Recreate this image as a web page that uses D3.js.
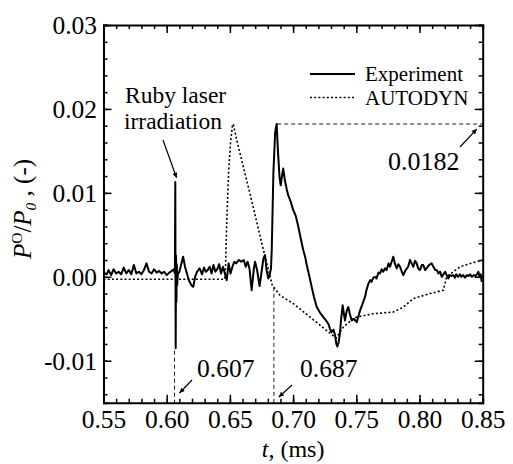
<!DOCTYPE html>
<html>
<head>
<meta charset="utf-8">
<script src="https://cdn.jsdelivr.net/npm/d3@7"></script>
<style>
    body { margin: 0; background: #fff; }
    svg { display: block; }
    .axis path { stroke: #000; stroke-width: 2; }
    .axis line { stroke: #000; stroke-width: 1.5; }
</style>
</head>
<body>
<svg></svg>
<script>
let width = 513
let height = 464
let margin = { left: 103.5, right: 30.3, top: 25, bottom: 61.3 }
let serif = "'Liberation Serif', 'Times New Roman', 'DejaVu Serif', serif"
let svg = d3.select('svg')
    .attr('width', width)
    .attr('height', height)

// time (ms), P/P0 (-)
let experiment = [
    [0.5500, 0.0005], [0.5525, 0.0003], [0.5540, 0.0008], [0.5560, 0.0002], [0.5580, 0.0009],
    [0.5600, 0.0004], [0.5620, 0.0006], [0.5640, 0.0003], [0.5660, 0.0011], [0.5680, 0.0004],
    [0.5700, 0.0008], [0.5720, 0.0003], [0.5740, 0.0014], [0.5760, 0.0004], [0.5780, 0.0006],
    [0.5800, 0.0003], [0.5820, 0.0008], [0.5840, 0.0016], [0.5860, 0.0006], [0.5880, 0.0004],
    [0.5900, 0.0009], [0.5920, 0.0005], [0.5940, 0.0007], [0.5960, 0.0004], [0.5980, 0.0006],
    [0.6000, 0.0002], [0.6020, 0.0005], [0.6040, 0.0007], [0.6055, 0.0009], [0.6065, 0.0004],
    [0.6068, 0.0113], [0.6071, -0.0085], [0.6074, 0.0025], [0.6077, -0.0030], [0.6080, 0.0015],
    [0.6083, -0.0010], [0.6088, 0.0003], [0.6100, 0.0006], [0.6115, 0.0015], [0.6130, 0.0024],
    [0.6145, 0.0012], [0.6160, 0.0004], [0.6175, -0.0004], [0.6195, -0.0010], [0.6210, -0.0012],
    [0.6225, 0.0000], [0.6240, 0.0006], [0.6260, 0.0010], [0.6280, 0.0003], [0.6295, 0.0011],
    [0.6310, 0.0006], [0.6325, 0.0008], [0.6340, 0.0012], [0.6355, 0.0004], [0.6370, 0.0014],
    [0.6385, 0.0006], [0.6400, 0.0009], [0.6415, 0.0015], [0.6430, 0.0004], [0.6445, 0.0012],
    [0.6458, 0.0005], [0.6475, -0.0004], [0.6490, 0.0016], [0.6505, 0.0004], [0.6520, 0.0012],
    [0.6535, 0.0018], [0.6550, 0.0016], [0.6570, 0.0020], [0.6590, 0.0018], [0.6610, 0.0020],
    [0.6625, 0.0012], [0.6640, 0.0018], [0.6655, 0.0010], [0.6672, -0.0016], [0.6690, 0.0010],
    [0.6699, 0.0018], [0.6715, 0.0008], [0.6735, -0.0011], [0.6750, 0.0005], [0.6765, 0.0022],
    [0.6778, 0.0026], [0.6790, 0.0008], [0.6804, -0.0002], [0.6815, 0.0002], [0.6825, 0.0010],
    [0.6831, 0.0032], [0.6844, 0.0124], [0.6858, 0.0172], [0.6870, 0.0182], [0.6880, 0.0150],
    [0.6893, 0.0118], [0.6902, 0.0109], [0.6912, 0.0120], [0.6922, 0.0129], [0.6935, 0.0115],
    [0.6950, 0.0104], [0.6962, 0.0097], [0.6980, 0.0090], [0.7000, 0.0080], [0.7020, 0.0073],
    [0.7041, 0.0060], [0.7060, 0.0046], [0.7080, 0.0032], [0.7095, 0.0024], [0.7108, 0.0014],
    [0.7125, 0.0003], [0.7147, -0.0012], [0.7165, -0.0024], [0.7187, -0.0036], [0.7210, -0.0042],
    [0.7239, -0.0048], [0.7260, -0.0052], [0.7279, -0.0056], [0.7292, -0.0062], [0.7305, -0.0066],
    [0.7320, -0.0063], [0.7331, -0.0069], [0.7342, -0.0080], [0.7350, -0.0083], [0.7360, -0.0078],
    [0.7371, -0.0067], [0.7380, -0.0050], [0.7392, -0.0034], [0.7400, -0.0042], [0.7410, -0.0052],
    [0.7425, -0.0040], [0.7437, -0.0036], [0.7450, -0.0045], [0.7464, -0.0052], [0.7480, -0.0050],
    [0.7503, -0.0054], [0.7515, -0.0048], [0.7530, -0.0040], [0.7550, -0.0032], [0.7569, -0.0024],
    [0.7580, -0.0016], [0.7596, -0.0008], [0.7610, -0.0004], [0.7620, -0.0006], [0.7635, -0.0001],
    [0.7648, 0.0000], [0.7660, -0.0002], [0.7675, 0.0005], [0.7688, 0.0004], [0.7700, 0.0009],
    [0.7713, 0.0006], [0.7727, 0.0010], [0.7740, 0.0008], [0.7755, 0.0016], [0.7767, 0.0012],
    [0.7780, 0.0018], [0.7793, 0.0024], [0.7805, 0.0016], [0.7820, 0.0010], [0.7833, 0.0015],
    [0.7846, 0.0012], [0.7860, 0.0006], [0.7872, 0.0002], [0.7890, 0.0008], [0.7910, 0.0012],
    [0.7925, 0.0020], [0.7938, 0.0016], [0.7951, 0.0012], [0.7965, 0.0019], [0.7978, 0.0016],
    [0.7990, 0.0010], [0.8004, 0.0008], [0.8018, 0.0014], [0.8030, 0.0014], [0.8045, 0.0008],
    [0.8060, 0.0011], [0.8075, 0.0014], [0.8096, 0.0016], [0.8110, 0.0012], [0.8125, 0.0008],
    [0.8136, 0.0008], [0.8150, 0.0004], [0.8163, 0.0006], [0.8176, 0.0000], [0.8190, 0.0003],
    [0.8202, 0.0006], [0.8215, 0.0002], [0.8229, -0.0002], [0.8240, 0.0002], [0.8255, 0.0001],
    [0.8268, 0.0002], [0.8280, -0.0001], [0.8290, 0.0003], [0.8305, 0.0000], [0.8320, 0.0003],
    [0.8330, 0.0000], [0.8345, 0.0002], [0.8360, -0.0001], [0.8375, 0.0002], [0.8390, 0.0001],
    [0.8400, 0.0003], [0.8415, 0.0000], [0.8430, 0.0002], [0.8445, 0.0001], [0.8466, 0.0006],
    [0.8475, 0.0000], [0.8485, 0.0003], [0.8492, -0.0006]
]

let autodyn = [
    [0.5500, -0.0003], [0.6458, -0.0003], [0.6465, 0.0010], [0.6475, 0.0065], [0.6490, 0.0125],
    [0.6505, 0.0160], [0.6520, 0.0180], [0.6527, 0.0182], [0.6554, 0.0163], [0.6659, 0.0099],
    [0.6765, 0.0032], [0.6835, -0.0010], [0.6896, -0.0022], [0.7002, -0.0032], [0.7134, -0.0048],
    [0.7266, -0.0064], [0.7340, -0.0073], [0.7397, -0.0060], [0.7450, -0.0053], [0.7503, -0.0048],
    [0.7635, -0.0044], [0.7793, -0.0042], [0.7872, -0.0036], [0.7951, -0.0026], [0.8083, -0.0020],
    [0.8188, -0.0016], [0.8215, 0.0000], [0.8320, 0.0012], [0.8452, 0.0018], [0.8500, 0.0020]
]

let xTicks = [0.55, 0.60, 0.65, 0.70, 0.75, 0.80, 0.85]
let yTicks = [-0.01, 0.00, 0.01, 0.02, 0.03]
let xMinorTicks = d3.range(55, 86).map(d => d / 100)
let yMinorTicks = d3.range(-7, 16).map(d => d / 500)

let legendItems = ['Experiment', 'AUTODYN']
let peakValue = 0.0182
let peakTime = 0.6874
// dashed drop lines: time, value where the drop starts, label
let dropLines = [
    { t: 0.6062, v: -0.0088, label: '0.607' },
    { t: 0.6848, v: -0.0012, label: '0.687' }
]

let x = d3.scaleLinear()
    .domain([0.55, 0.85])
    .range([margin.left, width - margin.right])
let y = d3.scaleLinear()
    .domain([-0.015, 0.03])
    .range([height - margin.bottom, margin.top])

let fmt = d => d.toFixed(2)

svg.append('defs').append('marker')
    .attr('id', 'arrow')
    .attr('viewBox', '0 0 10 10')
    .attr('refX', 10)
    .attr('refY', 5)
    .attr('markerWidth', 7)
    .attr('markerHeight', 5)
    .attr('markerUnits', 'userSpaceOnUse')
    .attr('orient', 'auto')
    .append('path')
    .attr('d', 'M 0 0 L 10 5 L 0 10 z')
    .attr('fill', '#000')

// axes, ticks pointing inwards on all four sides
let axisB = svg.append('g').attr('class', 'axis')
    .attr('transform', `translate(0,${y.range()[0]})`)
axisB.call(d3.axisBottom(x).tickValues(xMinorTicks).tickSize(-4).tickFormat(''))
axisB.append('g').call(d3.axisBottom(x).tickValues(xTicks).tickSize(-8).tickFormat(fmt))
    .call(g => g.select('.domain').remove())
    .selectAll('text')
    .attr('y', 25)
    .attr('dy', null)

let axisT = svg.append('g').attr('class', 'axis')
    .attr('transform', `translate(0,${y.range()[1]})`)
axisT.call(d3.axisTop(x).tickValues(xMinorTicks).tickSize(-4).tickFormat(''))
axisT.append('g').call(d3.axisTop(x).tickValues(xTicks).tickSize(-8).tickFormat(''))
    .call(g => g.select('.domain').remove())

let axisL = svg.append('g').attr('class', 'axis')
    .attr('transform', `translate(${x.range()[0]},0)`)
axisL.call(d3.axisLeft(y).tickValues(yMinorTicks).tickSize(-4).tickFormat(''))
axisL.append('g').call(d3.axisLeft(y).tickValues(yTicks).tickSize(-8).tickFormat(fmt))
    .call(g => g.select('.domain').remove())
    .selectAll('text')
    .attr('x', -6.5)
    .attr('dy', '0.33em')

let axisR = svg.append('g').attr('class', 'axis')
    .attr('transform', `translate(${x.range()[1]},0)`)
axisR.call(d3.axisRight(y).tickValues(yMinorTicks).tickSize(-4).tickFormat(''))
axisR.append('g').call(d3.axisRight(y).tickValues(yTicks).tickSize(-8).tickFormat(''))
    .call(g => g.select('.domain').remove())

svg.selectAll('.axis, .axis g')
    .attr('font-family', serif)
    .attr('font-size', 25.5)

let line = d3.line()
    .x(d => x(d[0]))
    .y(d => y(d[1]))

// annotation lines
let dash = '4,3'
svg.append('line')
    .attr('x1', x(peakTime)).attr('x2', x.range()[1])
    .attr('y1', y(peakValue)).attr('y2', y(peakValue))
    .attr('stroke', '#000').attr('stroke-width', 0.9)
    .attr('stroke-dasharray', dash)
svg.selectAll('.drop')
    .data(dropLines).enter()
    .append('line')
    .attr('class', 'drop')
    .attr('x1', d => x(d.t)).attr('x2', d => x(d.t))
    .attr('y1', d => y(d.v)).attr('y2', y.range()[0])
    .attr('stroke', '#000').attr('stroke-width', 0.9)
    .attr('stroke-dasharray', dash)

svg.append('path')
    .datum(autodyn)
    .attr('fill', 'none')
    .attr('stroke', '#000')
    .attr('stroke-width', 1.6)
    .attr('stroke-dasharray', '2,2.2')
    .attr('d', line)

svg.append('path')
    .datum(experiment)
    .attr('fill', 'none')
    .attr('stroke', '#000')
    .attr('stroke-width', 2)
    .attr('stroke-linejoin', 'round')
    .attr('d', line)

// texts and arrows
let label = (px, py, size, text) => svg.append('text')
    .attr('x', px).attr('y', py)
    .attr('font-family', serif)
    .attr('font-size', size)
    .text(text)
let arrow = (x1, y1, x2, y2) => svg.append('line')
    .attr('x1', x1).attr('y1', y1).attr('x2', x2).attr('y2', y2)
    .attr('stroke', '#000').attr('stroke-width', 1.2)
    .attr('marker-end', 'url(#arrow)')

label(125, 103, 23.5, 'Ruby laser')
label(124, 129, 23.5, 'irradiation')
arrow(163, 140, x(0.607) + 1, y(0.0118))

label(388, 170, 26, peakValue.toString())
arrow(460, 147, x.range()[1] - 6, y(peakValue) + 5)

label(197, 377, 25.5, dropLines[0].label)
arrow(192, 380, x(dropLines[0].t) + 5, 393)
label(300, 377, 25.5, dropLines[1].label)
arrow(292, 385, x(dropLines[1].t) + 5, 397)

// legend
let legend = svg.append('g').attr('transform', 'translate(310,74)')
let legendRow = legend.selectAll('g')
    .data(legendItems).enter()
    .append('g')
    .attr('transform', (d, i) => `translate(0,${i * 23.5})`)
legendRow.append('line')
    .attr('x1', 0).attr('x2', 45)
    .attr('stroke', '#000')
    .attr('stroke-width', (d, i) => i === 0 ? 2 : 1.6)
    .attr('stroke-dasharray', (d, i) => i === 0 ? null : '2,2.2')
legendRow.append('text')
    .attr('x', 55).attr('y', 7)
    .attr('font-family', serif)
    .attr('font-size', 21)
    .text(d => d)

// axis titles
let yTitle = svg.append('text')
    .attr('transform', 'translate(31,209) rotate(-90)')
    .attr('text-anchor', 'middle')
    .attr('font-family', serif)
    .attr('font-size', 25)
yTitle.append('tspan').attr('font-style', 'italic').text('P')
yTitle.append('tspan').attr('dy', -9).attr('font-size', 15.5).text('O')
yTitle.append('tspan').attr('dy', 9).text('/')
yTitle.append('tspan').attr('font-style', 'italic').text('P')
yTitle.append('tspan').attr('dy', 5).attr('font-size', 15.5).attr('font-style', 'italic').text('0')
yTitle.append('tspan').attr('dy', -5).text(' , (-)')

let xTitle = svg.append('text')
    .attr('x', (x.range()[0] + x.range()[1]) / 2)
    .attr('y', 457)
    .attr('text-anchor', 'middle')
    .attr('font-family', serif)
    .attr('font-size', 24)
xTitle.append('tspan').attr('font-style', 'italic').text('t')
xTitle.append('tspan').text(', (ms)')
</script>
</body>
</html>
